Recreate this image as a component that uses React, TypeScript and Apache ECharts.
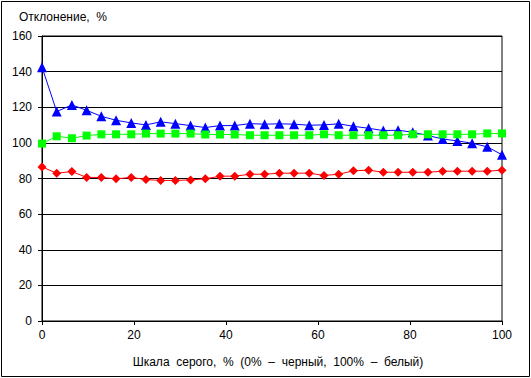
import React, { useEffect, useRef } from "react";
import * as echarts from "echarts";

const xValues = [0, 3.2, 6.5, 9.7, 12.9, 16.1, 19.4, 22.6, 25.8, 29.0, 32.3, 35.5, 38.7, 41.9, 45.2, 48.4, 51.6, 54.8, 58.1, 61.3, 64.5, 67.7, 71.0, 74.2, 77.4, 80.6, 83.9, 87.1, 90.3, 93.5, 96.8, 100];
const blueValues = [142.5, 117.6, 121.3, 118.3, 114.9, 112.7, 111.2, 110.1, 111.8, 110.8, 109.7, 108.6, 109.7, 109.7, 110.8, 110.5, 110.7, 110.5, 109.9, 110.1, 110.7, 109.3, 108.2, 106.9, 107.1, 106.0, 104.1, 102.2, 101.1, 99.8, 97.8, 93.3];
const greenValues = [99.6, 103.7, 102.6, 104.1, 104.8, 104.8, 104.8, 105.2, 105.2, 105.2, 105.2, 104.7, 104.7, 104.7, 104.3, 104.3, 104.3, 104.3, 104.3, 104.8, 104.3, 104.3, 104.3, 104.3, 104.3, 104.8, 104.8, 104.8, 104.8, 104.8, 105.3, 105.3];
const redValues = [86.5, 83.0, 83.9, 80.6, 80.6, 79.8, 80.6, 79.4, 78.9, 78.9, 79.2, 79.8, 81.3, 81.3, 82.4, 82.4, 83.0, 83.0, 83.0, 81.7, 82.4, 84.3, 84.7, 83.5, 83.5, 83.5, 83.5, 84.1, 84.1, 84.1, 84.1, 84.7];
const xTicks = { min: 0, max: 100, interval: 20 };
const yTicks = { min: 0, max: 160, interval: 20 };
const yTitle = "Отклонение,  %";
const xTitle = "Шкала  серого,  %  (0%  –  черный,  100%  –  белый)";

const FONT = "'Liberation Sans', Arial, sans-serif";

function pairs(ys: number[]) {
  return ys.map((y, i) => [xValues[i], y]);
}

export default function App() {
  const ref = useRef<HTMLDivElement>(null);
  useEffect(() => {
    document.body.style.margin = "0";
    if (!ref.current) return;
    const chart = echarts.init(ref.current, undefined, { renderer: "svg" });
    chart.setOption({
      animation: false,
      backgroundColor: "#ffffff",
      textStyle: { fontFamily: FONT },
      grid: {
        left: 42,
        right: 29,
        top: 36,
        bottom: 57,
        show: true,
        borderColor: "#000",
        borderWidth: 1,
        backgroundColor: "transparent",
      },
      xAxis: {
        type: "value",
        min: xTicks.min,
        max: xTicks.max,
        interval: xTicks.interval,
        axisLine: { show: true, onZero: false, lineStyle: { color: "#000", width: 1 } },
        axisTick: { show: true, length: 4, lineStyle: { color: "#000" } },
        splitLine: { show: false },
        axisLabel: { color: "#000", fontSize: 12, margin: 8, fontFamily: FONT },
      },
      yAxis: {
        type: "value",
        min: yTicks.min,
        max: yTicks.max,
        interval: yTicks.interval,
        axisLine: { show: true, lineStyle: { color: "#000", width: 1 } },
        axisTick: { show: true, length: 4, lineStyle: { color: "#000" } },
        splitLine: { show: true, lineStyle: { color: "#000", width: 1 } },
        axisLabel: { color: "#000", fontSize: 12, margin: 10, fontFamily: FONT },
      },
      graphic: [
        {
          type: "rect",
          shape: { x: 1.5, y: 1.5, width: 528, height: 375 },
          style: { fill: "none", stroke: "#000", lineWidth: 1 },
          silent: true,
        },
        {
          type: "text",
          x: 19,
          y: 16.5,
          style: { text: yTitle, fill: "#000", font: `12px ${FONT}`, textVerticalAlign: "middle" },
        },
        {
          type: "text",
          x: 278,
          y: 361.5,
          style: { text: xTitle, fill: "#000", font: `12px ${FONT}`, textAlign: "center", textVerticalAlign: "middle" },
        },
      ],
      series: [
        {
          type: "line",
          data: pairs(blueValues),
          symbol: "triangle",
          symbolSize: 10,
          itemStyle: { color: "#0000ff" },
          lineStyle: { color: "#0000ff", width: 1 },
          z: 3,
        },
        {
          type: "line",
          data: pairs(greenValues),
          symbol: "rect",
          symbolSize: 8,
          itemStyle: { color: "#00ff00" },
          lineStyle: { color: "#00ff00", width: 1 },
          z: 4,
        },
        {
          type: "line",
          data: pairs(redValues),
          symbol: "diamond",
          symbolSize: 9,
          itemStyle: { color: "#ff0000" },
          lineStyle: { color: "#ff0000", width: 1 },
          z: 5,
        },
      ],
    });
    return () => chart.dispose();
  }, []);
  return <div ref={ref} style={{ width: 531, height: 378 }} />;
}
